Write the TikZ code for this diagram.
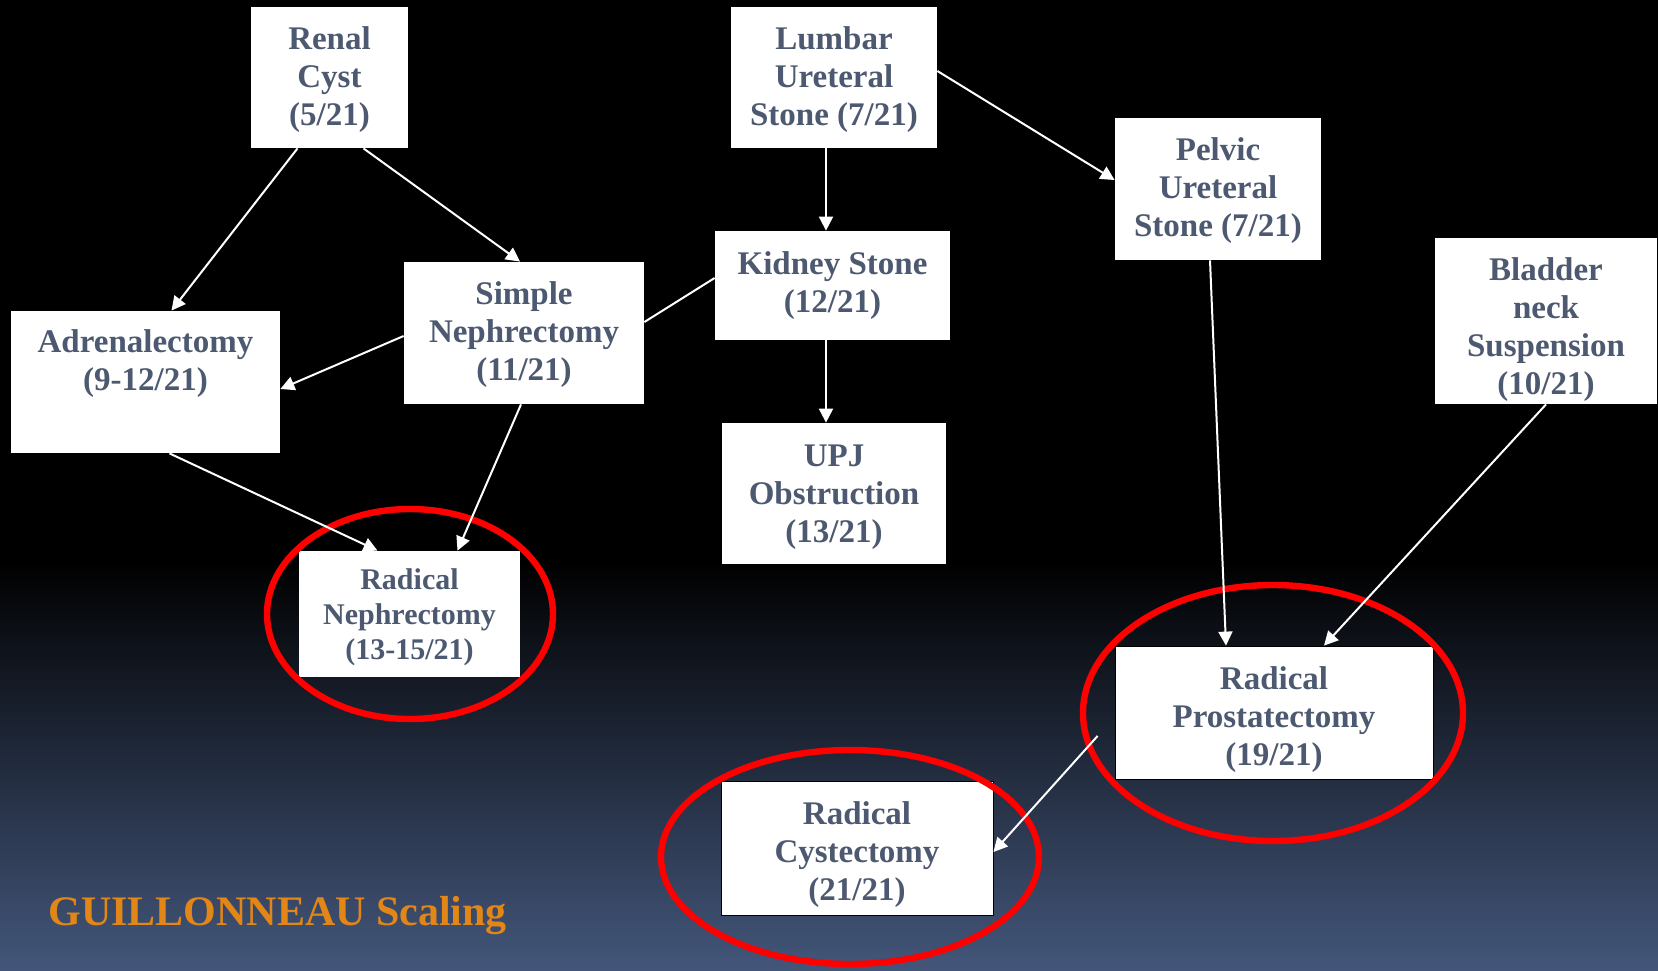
\documentclass[tikz,border=0pt]{standalone}
\usepackage{fontspec}
\setmainfont{Liberation Serif}
\usepackage{xcolor}
\usetikzlibrary{arrows.meta}
\definecolor{slidebottom}{RGB}{67,86,122}
\definecolor{boxtext}{RGB}{76,89,112}
\definecolor{titleorange}{RGB}{226,134,24}
\newcommand{\padtop}[1]{\rule{0pt}{#1}}

\begin{document}
\begin{tikzpicture}[
  x=0.5pt, y=-0.5pt,
  stage/.style={rectangle, fill=white, inner sep=0pt, align=center,
                text=boxtext, font=\bfseries\fontsize{16.5}{19}\selectfont},
  arr/.style={-{Triangle[width=7pt,length=7pt]}, white, line width=1pt},
  link/.style={white, line width=1pt},
  ring/.style={red, line width=3.2pt}
]
  \fill[black] (0,0) rectangle (1658,560);
  \shade[top color=black, bottom color=slidebottom] (0,560) rectangle (1658,970);
  \useasboundingbox (0,0) rectangle (1658,970);

  \node[stage, minimum width=78.5pt, minimum height=70.5pt] (renal) at (329.5,77.5) {\padtop{13.3pt}Renal\\Cyst\\(5/21)};
  \node[stage, minimum width=103pt, minimum height=70.5pt] (lumbar) at (834,77.5) {\padtop{13.3pt}Lumbar\\Ureteral\\Stone (7/21)};
  \node[stage, minimum width=103pt, minimum height=71pt] (pelvic) at (1218,189) {\padtop{13.3pt}Pelvic\\Ureteral\\Stone (7/21)};
  \node[stage, minimum width=111pt, minimum height=83pt] (bladder) at (1546,321) {\padtop{19.8pt}Bladder\\neck\\Suspension\\(10/21)};
  \node[stage, minimum width=134.5pt, minimum height=71pt] (adrenal) at (145.5,382) {Adrenalectomy\\(9-12/21)\\[3pt]\mbox{}};
  \node[stage, minimum width=120pt, minimum height=71pt] (simple) at (524,333) {\padtop{13.3pt}Simple\\Nephrectomy\\(11/21)};
  \node[stage, minimum width=117.5pt, minimum height=54.5pt] (kidney) at (832.5,285.5) {Kidney Stone\\(12/21)};
  \node[stage, minimum width=112pt, minimum height=70.5pt] (upj) at (834,493.5) {\padtop{14.3pt}UPJ\\Obstruction\\(13/21)};
  \node[stage, minimum width=110.5pt, minimum height=63pt,
        font=\bfseries\fontsize{15}{17.5}\selectfont] (radneph) at (409.5,614) {\padtop{13.3pt}Radical\\Nephrectomy\\(13-15/21)};
  \node[stage, draw=black, minimum width=159pt, minimum height=66.5pt] (radprost) at (1274,712.5) {\padtop{18.7pt}Radical\\Prostatectomy\\(19/21)};
  \node[stage, draw=black, minimum width=136pt, minimum height=67pt] (radcyst) at (857,848) {\padtop{17.6pt}Radical\\Cystectomy\\(21/21)};
  \node[anchor=west, inner sep=0pt, text=titleorange,
        font=\bfseries\fontsize{21}{25}\selectfont] (title) at (48,916) {GUILLONNEAU Scaling};

  \draw[ring] (410,614) ellipse [x radius=71.5pt, y radius=52.5pt];
  \draw[ring] (850,857) ellipse [x radius=94.5pt, y radius=53.5pt];
  \draw[ring] (1273,713) ellipse [x radius=95pt, y radius=64pt];

  \draw[arr] ([xshift=-16pt]renal.south) -- ([xshift=13pt]adrenal.north);
  \draw[arr] ([xshift=17pt]renal.south) -- ([xshift=-2pt]simple.north);
  \draw[arr] ([yshift=-1.5pt]simple.west) -- ([yshift=-3.5pt]adrenal.east);
  \draw[link] ([yshift=5.5pt]simple.east) -- ([yshift=3.75pt]kidney.west);
  \draw[arr] ([xshift=-4pt]lumbar.south) -- ([xshift=-3.25pt]kidney.north);
  \draw[arr] ([yshift=3.25pt]lumbar.east) -- ([yshift=4.5pt]pelvic.west);
  \draw[arr] ([xshift=-3.25pt]kidney.south) -- ([xshift=-4pt]upj.north);
  \draw[arr] ([xshift=12pt]adrenal.south) -- ([xshift=-16pt]radneph.north);
  \draw[arr] ([xshift=-1.5pt]simple.south) -- ([xshift=24pt]radneph.north);
  \draw[arr] ([xshift=-4pt]pelvic.south) -- ([xshift=-24pt]radprost.north);
  \draw[arr] (bladder.south) -- ([xshift=25pt]radprost.north);
  \draw[arr, shorten <=12.7pt] ([yshift=-2.25pt]radprost.west) -- ([yshift=-2pt]radcyst.east);
\end{tikzpicture}
\end{document}
